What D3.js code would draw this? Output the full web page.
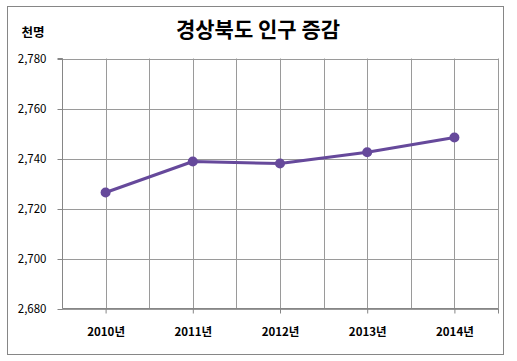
<!DOCTYPE html>
<html><head><meta charset="utf-8">
<script src="https://cdn.jsdelivr.net/npm/d3@7"></script>
<style>body{margin:0;background:#fff}</style>
</head><body>
<script>
const categories = ["2010년","2011년","2012년","2013년","2014년"];
const values = [2726.4, 2738.8, 2738.0, 2742.5, 2748.4];
const yTicks = [2680, 2700, 2720, 2740, 2760, 2780];
const title = "경상북도 인구 증감";
const unitLabel = "천명";

const W = 517, H = 361;
const svg = d3.select("body").append("svg").attr("width", W).attr("height", H);
const font = "'Noto Sans CJK KR','Noto Sans',sans-serif";
svg.append("rect").attr("x",7.5).attr("y",6.5).attr("width",496).attr("height",348)
  .attr("fill","#fff").attr("stroke","#868686").attr("stroke-width",1);

const L = 62, R = 498, T = 58.5, B = 308.5;
const x = d3.scaleBand().domain(categories).range([L,R]).padding(0);
const y = d3.scaleLinear().domain([2680,2780]).range([B,T]);
const g = svg.append("g");
const grid = "#9a9a9a";
// horizontal grid
g.selectAll(".hg").data(yTicks).join("line")
  .attr("x1",L).attr("x2",R).attr("y1",d=>Math.round(y(d))+0.5).attr("y2",d=>Math.round(y(d))+0.5)
  .attr("stroke",grid);
// vertical grid: boundaries and centers
const vx = [];
categories.forEach(c=>{vx.push(x(c)); vx.push(x(c)+x.bandwidth()/2);});
vx.push(R);
g.selectAll(".vg").data(vx).join("line")
  .attr("x1",d=>Math.round(d)+0.5).attr("x2",d=>Math.round(d)+0.5).attr("y1",T).attr("y2",B)
  .attr("stroke",grid);

// y axis
const ya = d3.axisLeft(y).tickValues(yTicks).tickSize(5).tickPadding(10).tickFormat(d3.format(","));
const yg = svg.append("g").attr("transform",`translate(${L+0.5},0.5)`).call(ya);
yg.select(".domain").attr("stroke","#868686").attr("d",`M-5,${T-0.5}H0V${B-0.5}`);
yg.selectAll(".tick line").attr("stroke","#868686");
yg.selectAll("text").attr("font-family",font).attr("font-size",11.5).attr("fill","#000").attr("dx",-1);

// x axis
const xa = d3.axisBottom(x).tickSize(5).tickPadding(14);
const xg = svg.append("g").attr("transform",`translate(0.5,${B})`).call(xa);
xg.select(".domain").attr("stroke","#868686").attr("d",`M${L},0H${R}V5`);
xg.selectAll(".tick line").attr("stroke","#868686");
xg.selectAll("text").attr("font-family",font).attr("font-size",11.5).attr("font-weight","bold").attr("fill","#000");

// line
const color = "#66499b";
const line = d3.line().x((d,i)=>x(categories[i])+x.bandwidth()/2).y(d=>y(d));
svg.append("path").datum(values).attr("d",line).attr("fill","none")
  .attr("stroke",color).attr("stroke-width",3).attr("stroke-linejoin","round");
svg.selectAll(".pt").data(values).join("circle")
  .attr("cx",(d,i)=>x(categories[i])+x.bandwidth()/2).attr("cy",d=>y(d)).attr("r",5).attr("fill",color);

svg.append("text").attr("x",258).attr("y",37).attr("text-anchor","middle")
  .attr("font-family",font).attr("font-weight","bold").attr("font-size",21).text(title);
svg.append("text").attr("x",33).attr("y",37).attr("text-anchor","middle")
  .attr("font-family",font).attr("font-weight","bold").attr("font-size",12.5).text(unitLabel);
</script>
</body></html>
